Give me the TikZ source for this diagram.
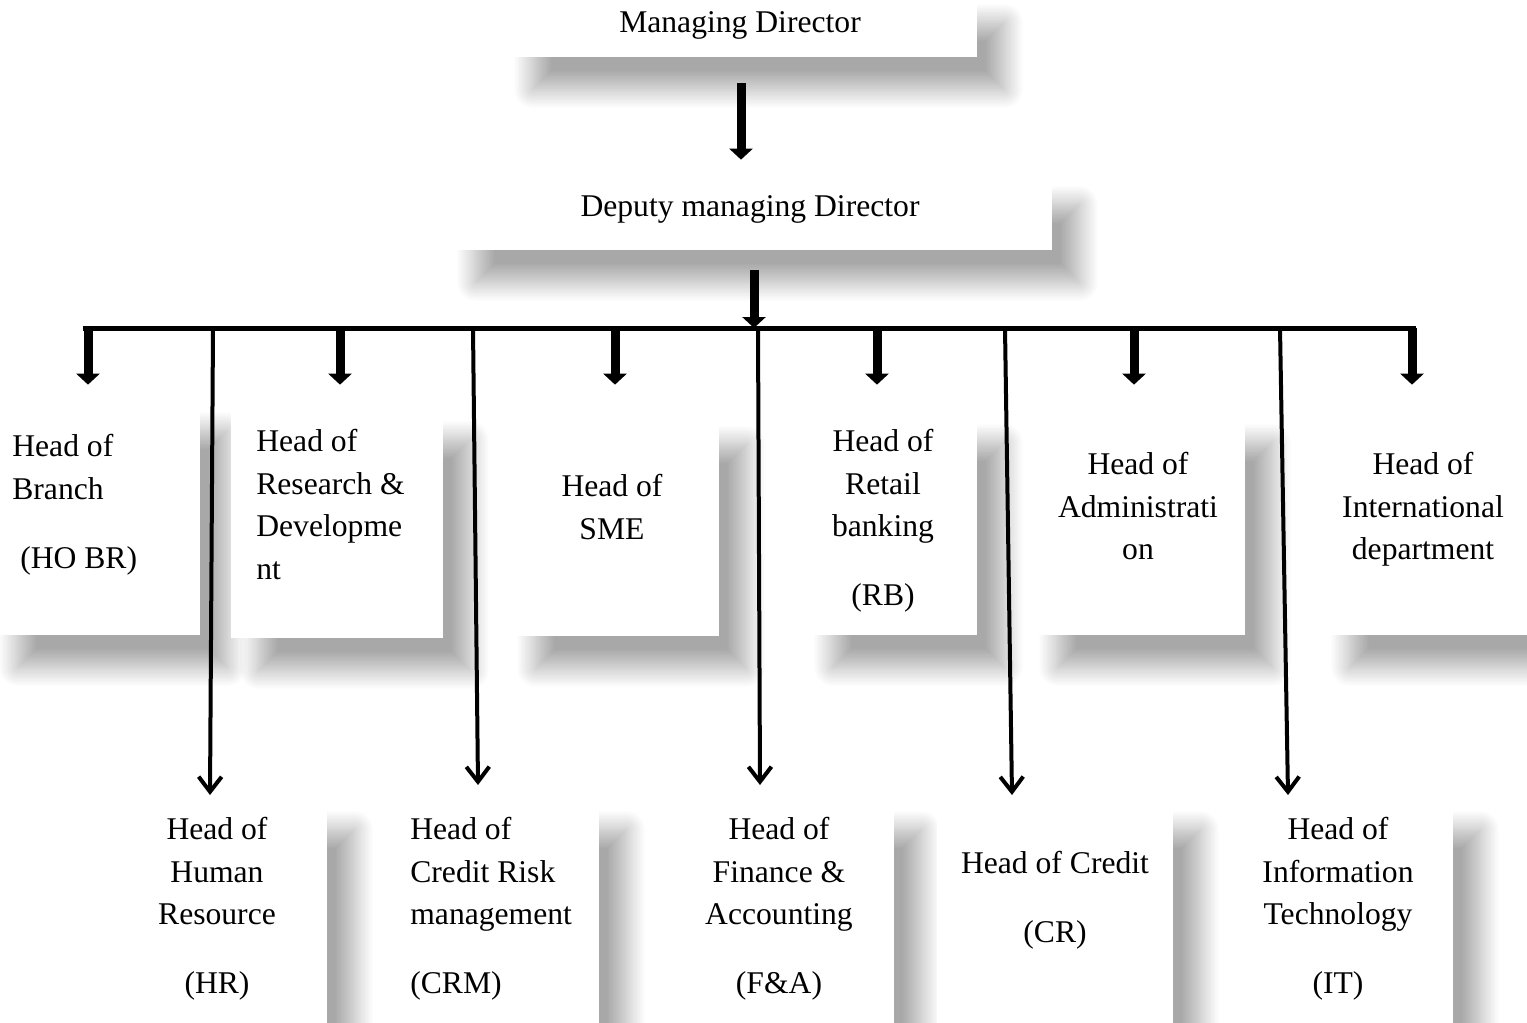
\documentclass[tikz,border=0pt]{standalone}
\usepackage{fontspec}
\setmainfont{Liberation Serif}
\usetikzlibrary{arrows.meta, positioning, fit, shadows.blur}
\newcommand{\orgfont}{\fontsize{18}{24.2}\selectfont}

\begin{document}
\begin{tikzpicture}[
  x=0.02cm, y=-0.02cm,
  post/.style={fill=white, inner sep=0pt,
               blur shadow={shadow xshift=0.55cm, shadow yshift=-0.65cm,
                            shadow blur radius=0.38cm, shadow blur steps=24,
                            shadow opacity=34}},
  txt/.style={inner sep=0pt, font=\orgfont, align=center, anchor=north},
  txtl/.style={txt, align=left, anchor=north west},
  fat/.style={line width=0.18cm, -{Triangle[width=0.46cm,length=0.22cm]}},
  lean/.style={line width=0.08cm, -{Straight Barb[width=0.46cm,length=0.3cm]}},
  busline/.style={line width=0.1cm},
]
\useasboundingbox (0,0) rectangle (1527,1022);
\clip (0,0) rectangle (1527,1022);

\node[post, fit={(505,-10) (977,57)}] (md) {};
\node[post, fit={(448,172) (1052,250)}] (dmd) {};

\node[post, fit={(-10,398) (200,635)}] (hob) {};
\node[post, fit={(231,407) (443,638)}] (rnd) {};
\node[post, fit={(508,412) (719,636)}] (sme) {};
\node[post, fit={(805,410) (977,635)}] (rtl) {};
\node[post, fit={(1030,410) (1245,635)}] (adm) {};
\node[post, fit={(1322,410) (1560,635)}] (intl) {};

\node[post, fit={(107,797) (327,1060)}] (hr) {};
\node[post, fit={(380,797) (599,1060)}] (crm) {};
\node[post, fit={(664,797) (894,1060)}] (fna) {};
\node[post, fit={(937,797) (1173,1060)}] (crd) {};
\node[post, fit={(1223,797) (1453,1060)}] (it) {};

\node[txt] (mdt) at (740,11) {Managing Director};
\node[txt] (dmdt) at (750,195) {Deputy managing Director};

\node[txtl] (hobt) at (12,434) {Head of\\Branch\\[0.53cm]\ (HO BR)};
\node[txtl] (rndt) at (256,429) {Head of\\Research \&\\Developme\\nt};
\node[txt] (smet) at (612,474) {Head of\\SME};
\node[txt] (rtlt) at (883,429) {Head of\\Retail\\banking\\[0.53cm](RB)};
\node[txt] (admt) at (1138,452) {Head of\\Administrati\\on};
\node[txt] (intlt) at (1423,452) {Head of\\International\\department};

\node[txt] (hrt) at (217,817) {Head of\\Human\\Resource\\[0.53cm](HR)};
\node[txtl] (crmt) at (410,817) {Head of\\Credit Risk\\management\\[0.53cm](CRM)};
\node[txt] (fnat) at (779,817) {Head of\\Finance \&\\Accounting\\[0.53cm](F\&A)};
\node[txt] (crdt) at (1055,851) {Head of Credit\\[0.53cm](CR)};
\node[txt] (itt) at (1338,817) {Head of\\Information\\Technology\\[0.53cm](IT)};

\coordinate (busl) at (83,328);
\coordinate (busr) at (1416,328);
\coordinate (busm) at (754,328);
\coordinate (d1) at (88,328);
\coordinate (d2) at (340,328);
\coordinate (d3) at (615,328);
\coordinate (d4) at (877,328);
\coordinate (d5) at (1134,328);
\coordinate (d6) at (1412,328);
\coordinate (s1) at (213,328);
\coordinate (s2) at (473,328);
\coordinate (s3) at (758,328);
\coordinate (s4) at (1005,328);
\coordinate (s5) at (1280,328);
\coordinate (e1) at (210,795);
\coordinate (e2) at (478,785);
\coordinate (e3) at (760,785);
\coordinate (e4) at (1012,795);
\coordinate (e5) at (1288,795);

\draw[busline] (busl) -- (busr);
\draw[fat, shorten <=0.52cm, shorten >=0.24cm] (md.south) -- (md.south |- dmd.north);
\draw[fat, shorten <=0.4cm] (busm |- dmd.south) -- (busm);

\draw[fat, shorten >=0.26cm] (d1) -- (d1 |- hob.north);
\draw[fat, shorten >=0.44cm] (d2) -- (d2 |- rnd.north);
\draw[fat, shorten >=0.54cm] (d3) -- (d3 |- sme.north);
\draw[fat, shorten >=0.5cm] (d4) -- (d4 |- rtl.north);
\draw[fat, shorten >=0.5cm] (d5) -- (d5 |- adm.north);
\draw[fat, shorten >=0.5cm] (d6) -- (d6 |- intl.north);

\draw[lean] (s1) -- (e1);
\draw[lean] (s2) -- (e2);
\draw[lean] (s3) -- (e3);
\draw[lean] (s4) -- (e4);
\draw[lean] (s5) -- (e5);
\end{tikzpicture}
\end{document}
